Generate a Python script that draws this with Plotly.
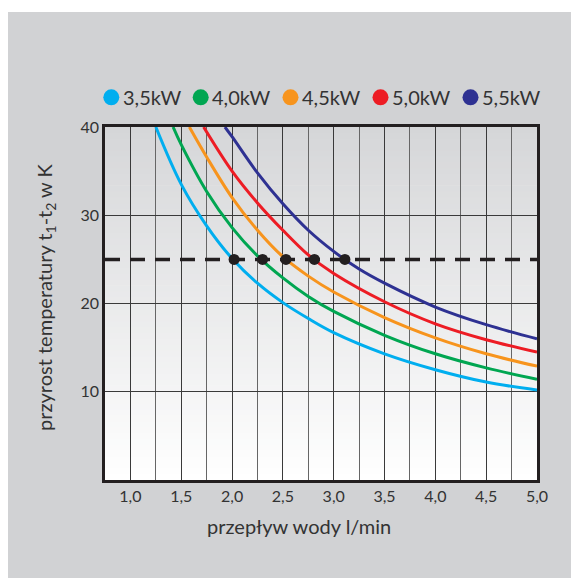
import plotly.graph_objects as go

# ---- data ----
series_names = ["3,5kW", "4,0kW", "4,5kW", "5,0kW", "5,5kW"]
series_colors = ["#00aeef", "#00a651", "#f7941d", "#ed1c24", "#2e3192"]

x_35 = [1.25, 1.5, 1.75, 2.0, 2.25, 2.5, 2.75, 3.0, 3.5, 4.0, 4.5, 5.0]
y_35 = [40.0, 33.5, 28.8, 25.1, 22.3, 20.1, 18.3, 16.7, 14.3, 12.5, 11.1, 10.2]

x_40 = [1.42, 1.5, 1.75, 2.0, 2.25, 2.5, 2.75, 3.0, 3.5, 4.0, 4.5, 5.0]
y_40 = [40.0, 38.0, 32.7, 28.6, 25.4, 22.9, 20.8, 19.1, 16.4, 14.3, 12.7, 11.4]

x_45 = [1.58, 1.75, 2.0, 2.25, 2.5, 2.75, 3.0, 3.5, 4.0, 4.5, 5.0]
y_45 = [40.0, 36.6, 32.0, 28.3, 25.3, 23.1, 21.3, 18.4, 16.1, 14.3, 12.9]

x_50 = [1.72, 2.0, 2.25, 2.5, 2.75, 3.0, 3.5, 4.0, 4.5, 5.0]
y_50 = [40.0, 35.0, 31.4, 28.3, 25.5, 23.4, 20.2, 17.7, 15.9, 14.5]

x_55 = [1.93, 2.0, 2.25, 2.5, 2.75, 3.0, 3.25, 3.5, 4.0, 4.5, 5.0]
y_55 = [40.0, 38.9, 34.8, 31.3, 28.3, 25.9, 23.9, 22.3, 19.6, 17.6, 16.0]

series_x = [x_35, x_40, x_45, x_50, x_55]
series_y = [y_35, y_40, y_45, y_50, y_55]

ref_level = 25
dot_x = [2.02, 2.30, 2.53, 2.81, 3.11]
dot_y = [25, 25, 25, 25, 25]

x_tickvals = [1.0, 1.5, 2.0, 2.5, 3.0, 3.5, 4.0, 4.5, 5.0]
x_ticktext = ["1,0", "1,5", "2,0", "2,5", "3,0", "3,5", "4,0", "4,5", "5,0"]
y_tickvals = [10, 20, 30, 40]

x_title = "przepływ wody l/min"
y_title = "przyrost temperatury t<sub>1</sub>-t<sub>2</sub> w K"

# ---- figure (page body adds an 8px margin, so the figure is 8px smaller) ----
OFF = 8
W, H = 579 - OFF, 578 - OFF
ML, MR, MT, MB = 97, 42, 119, 98
PW, PH = W - ML - MR, H - MT - MB

FONT = "Lato, 'Open Sans', sans-serif"
TXT = "#333333"
BG = "#d1d2d4"


def px_x(p):  # reference-page pixel -> paper x
    return (p - OFF - ML) / PW


def px_y(p):  # reference-page pixel -> paper y
    return (H - MB - (p - OFF)) / PH


fig = go.Figure()

# gradient background bands inside plot area
n_bands = 60
top_rgb = (213, 214, 216)
bot_rgb = (255, 255, 255)
shapes = []
for i in range(n_bands):
    t = (i + 0.5) / n_bands
    c = tuple(round(bot_rgb[k] + (top_rgb[k] - bot_rgb[k]) * t) for k in range(3))
    shapes.append(dict(type="rect", xref="x domain", yref="y domain",
                       x0=0, x1=1, y0=i / n_bands, y1=(i + 1) / n_bands + 0.002,
                       fillcolor="rgb(%d,%d,%d)" % c, line=dict(width=0), layer="below"))

# white top strip
shapes.append(dict(type="rect", xref="paper", yref="paper",
                   x0=px_x(0), x1=px_x(600), y0=px_y(12), y1=px_y(-5),
                   fillcolor="white", line=dict(width=0), layer="below"))

for name, col, xs, ys in zip(series_names, series_colors, series_x, series_y):
    fig.add_trace(go.Scatter(x=xs, y=ys, mode="lines", name=name,
                             line=dict(color=col, width=3, shape="spline", smoothing=1.0),
                             showlegend=False, hoverinfo="skip"))

# dashed reference line
fig.add_trace(go.Scatter(x=[0.75, 5.0], y=[ref_level, ref_level], mode="lines",
                         line=dict(color="#231f20", width=3.5, dash="15px,10px"),
                         showlegend=False, hoverinfo="skip"))

fig.add_trace(go.Scatter(x=dot_x, y=dot_y, mode="markers",
                         marker=dict(color="#231f20", size=11),
                         showlegend=False, hoverinfo="skip"))

# legend: circles + labels
legend_x_px = [103.3, 192.7, 282.5, 372.5, 462.5]
legend_cy = 97.3
annotations = []
for name, col, lx in zip(series_names, series_colors, legend_x_px):
    shapes.append(dict(type="circle", xref="paper", yref="paper",
                       x0=px_x(lx), x1=px_x(lx + 16), y0=px_y(legend_cy + 8), y1=px_y(legend_cy - 8),
                       fillcolor=col, line=dict(width=0), layer="above"))
    annotations.append(dict(
        xref="paper", yref="paper", x=px_x(lx + 17.5), y=px_y(legend_cy),
        xanchor="left", yanchor="middle", showarrow=False,
        text=name, font=dict(family=FONT, size=20, color=TXT)))

annotations.append(dict(xref="paper", yref="paper", x=px_x(299), y=px_y(526),
                        xanchor="center", yanchor="middle", showarrow=False,
                        text=x_title, font=dict(family=FONT, size=20, color=TXT)))
annotations.append(dict(xref="paper", yref="paper", x=px_x(45), y=px_y(297),
                        xanchor="center", yanchor="middle", showarrow=False, textangle=-90,
                        text=y_title, font=dict(family=FONT, size=20, color=TXT)))

fig.update_layout(
    width=W, height=H,
    margin=dict(l=ML, r=MR, t=MT, b=MB, pad=0),
    paper_bgcolor=BG, plot_bgcolor="white",
    shapes=shapes, annotations=annotations,
    showlegend=False,
    font=dict(family=FONT, size=16, color=TXT),
)

fig.update_xaxes(range=[0.75, 5.0], tickvals=x_tickvals, ticktext=x_ticktext,
                 showgrid=True, gridcolor="#3a3a3a", gridwidth=1.3,
                 minor=dict(tickvals=[1.25, 1.75, 2.25, 2.75, 3.25, 3.75, 4.25, 4.75],
                            showgrid=True, gridcolor="#666666", gridwidth=1.3),
                 showline=True, mirror=True, linecolor="#231f20", linewidth=2.5,
                 ticks="", zeroline=False, tickfont=dict(family=FONT, size=16, color=TXT))
fig.update_yaxes(range=[0, 40], tickvals=y_tickvals,
                 showgrid=True, gridcolor="#3a3a3a", gridwidth=1.3,
                 showline=True, mirror=True, linecolor="#231f20", linewidth=2.5,
                 ticks="", zeroline=False, tickfont=dict(family=FONT, size=16, color=TXT))

fig.write_html("out.html")
